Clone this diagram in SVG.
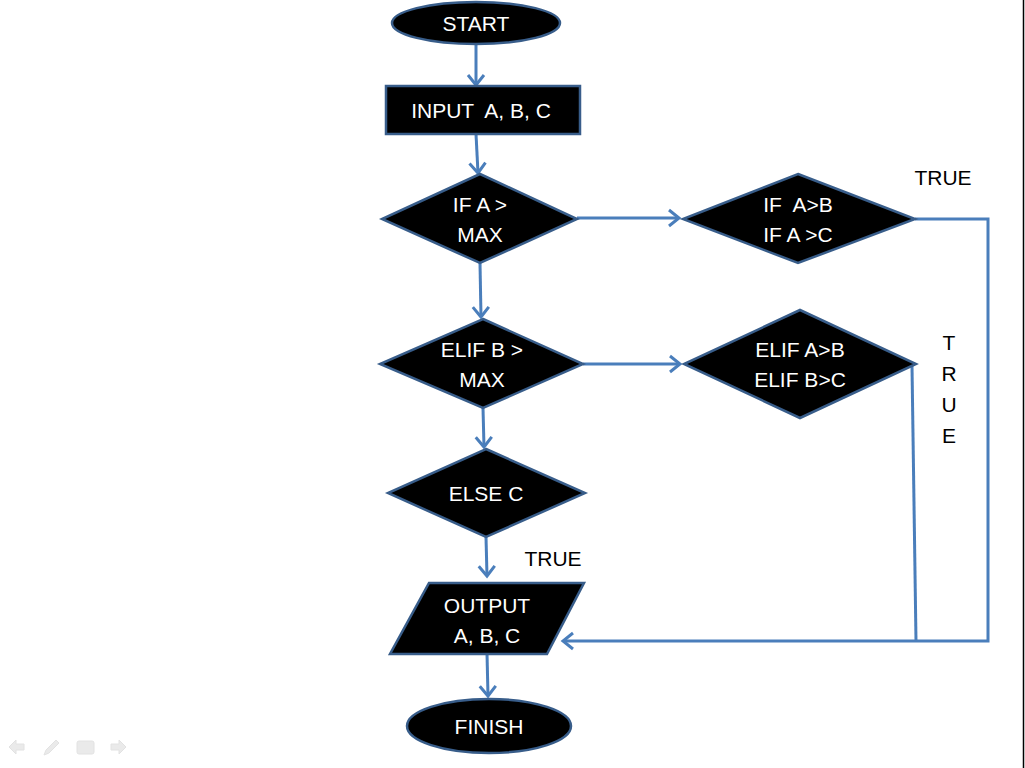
<svg xmlns="http://www.w3.org/2000/svg" width="1025" height="768" viewBox="0 0 1025 768">
  <style>
    .node { fill: #000000; stroke: #385D8A; stroke-width: 2.5; stroke-linejoin: miter; }
    .conn { fill: none; stroke: #4A7EBB; stroke-width: 3; }
    .lbl { font-family: "Liberation Sans", Arial, sans-serif; font-size: 21px; fill: #ffffff; text-anchor: middle; }
    .note { font-family: "Liberation Sans", Arial, sans-serif; font-size: 21px; fill: #000000; text-anchor: middle; }
    .icon { fill: #e6e6e6; stroke: #dcdcdc; stroke-width: 1; }
  </style>
  <defs>
    <marker id="arrow" markerUnits="userSpaceOnUse" markerWidth="22" markerHeight="22" refX="12" refY="9" orient="auto" viewBox="0 0 22 18">
      <path d="M2,1 L12,9 L2,17" fill="none" stroke="#4A7EBB" stroke-width="3"/>
    </marker>
  </defs>

  <rect x="0" y="0" width="1025" height="768" fill="#ffffff"/>
  <!-- right frame edge -->
  <line x1="1023.5" y1="0" x2="1023.5" y2="768" stroke="#000000" stroke-width="1.5"/>

  <!-- connectors -->
  <g id="connectors">
    <line class="conn" x1="476" y1="44" x2="476" y2="85" marker-end="url(#arrow)"/>
    <line class="conn" x1="476" y1="134" x2="478" y2="173" marker-end="url(#arrow)"/>
    <line class="conn" x1="480" y1="263" x2="481" y2="317" marker-end="url(#arrow)"/>
    <line class="conn" x1="577" y1="218" x2="679" y2="218" marker-end="url(#arrow)"/>
    <line class="conn" x1="583" y1="364" x2="680" y2="364" marker-end="url(#arrow)"/>
    <line class="conn" x1="483" y1="408" x2="484" y2="447" marker-end="url(#arrow)"/>
    <line class="conn" x1="486" y1="537" x2="487" y2="576" marker-end="url(#arrow)"/>
    <line class="conn" x1="487" y1="653" x2="488" y2="696" marker-end="url(#arrow)"/>
    <polyline class="conn" points="915,219 988,219 988,641 563,641" marker-end="url(#arrow)"/>
    <line class="conn" x1="912" y1="366" x2="916" y2="641"/>
  </g>

  <g id="start">
    <ellipse class="node" cx="476" cy="23" rx="84" ry="21"/>
    <text class="lbl" x="476" y="31">START</text>
  </g>

  <g id="input">
    <rect class="node" x="386" y="86" width="194" height="48"/>
    <text class="lbl" x="481" y="118" xml:space="preserve">INPUT  A, B, C</text>
  </g>

  <g id="if-max">
    <polygon class="node" points="480,174 577,219 480,263 382,219"/>
    <text class="lbl" x="480" y="212">IF A &gt;</text>
    <text class="lbl" x="480" y="242">MAX</text>
  </g>

  <g id="if-ab-ac">
    <polygon class="node" points="798,174 915,219 798,263 683,219"/>
    <text class="lbl" x="798" y="212" xml:space="preserve">IF  A&gt;B</text>
    <text class="lbl" x="798" y="242">IF A &gt;C</text>
  </g>

  <g id="elif-max">
    <polygon class="node" points="483,319 583,364 483,408 380,364"/>
    <text class="lbl" x="482" y="357">ELIF B &gt;</text>
    <text class="lbl" x="482" y="387">MAX</text>
  </g>

  <g id="elif-ab-bc">
    <polygon class="node" points="800,310 916,364 800,418 684,364"/>
    <text class="lbl" x="800" y="357">ELIF A&gt;B</text>
    <text class="lbl" x="800" y="387">ELIF B&gt;C</text>
  </g>

  <g id="else-c">
    <polygon class="node" points="486,449 585,493 486,537 388,493"/>
    <text class="lbl" x="486" y="501">ELSE C</text>
  </g>

  <g id="output">
    <polygon class="node" points="429,583 584,583 547,654 390,654"/>
    <text class="lbl" x="487" y="613">OUTPUT</text>
    <text class="lbl" x="487" y="643">A, B, C</text>
  </g>

  <g id="finish">
    <ellipse class="node" cx="489" cy="726" rx="82" ry="27"/>
    <text class="lbl" x="489" y="734">FINISH</text>
  </g>

  <!-- branch labels -->
  <g id="labels">
    <text class="note" x="943" y="185">TRUE</text>
    <text class="note" x="553" y="566">TRUE</text>
    <text class="note" x="949" y="350">T</text>
    <text class="note" x="949" y="381">R</text>
    <text class="note" x="949" y="412">U</text>
    <text class="note" x="949" y="443">E</text>
  </g>

  <!-- slide navigation controls -->
  <g id="nav" opacity="0.8">
    <polygon class="icon" points="9,747 16,740 16,744 24,744 24,750 16,750 16,754"/>
    <polygon class="icon" points="44,755 46,750 56,740 59,743 49,753"/>
    <rect class="icon" x="77" y="741" width="17" height="13" rx="2"/>
    <polygon class="icon" points="126,747 119,740 119,744 111,744 111,750 119,750 119,754"/>
  </g>
</svg>
